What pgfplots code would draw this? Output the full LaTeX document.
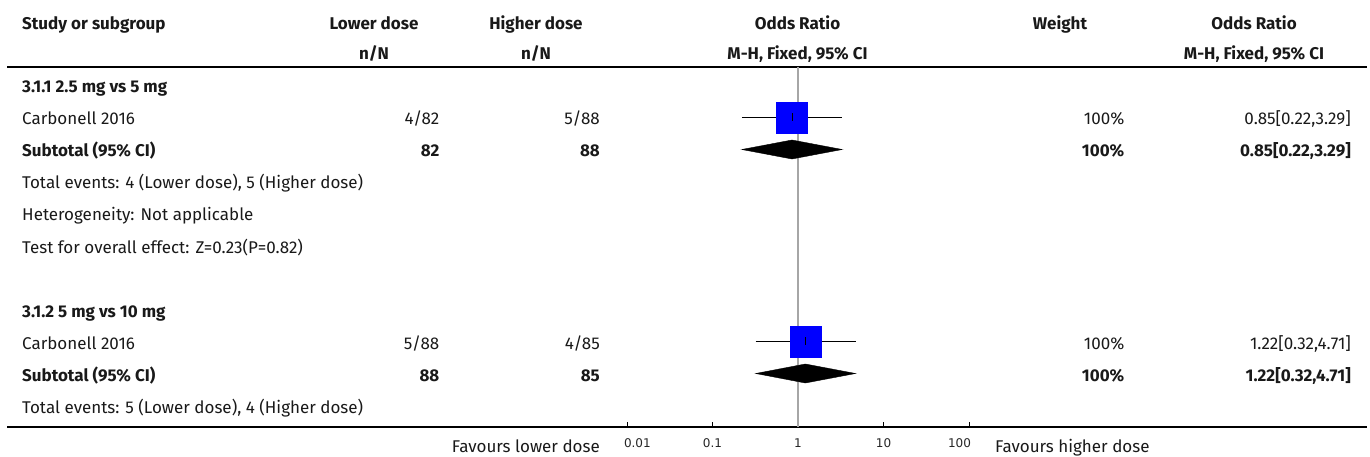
\documentclass[border=0pt]{standalone}
\usepackage{pgfplots}
\pgfplotsset{compat=1.18}
\usepackage{fontspec}
\setmainfont{Fira Sans}
\newfontfamily\tickfont{DejaVu Sans}
\newcommand\mf{\fontsize{17}{19}\selectfont}
\newcommand\bmf{\fontsize{17}{19}\selectfont\bfseries}
\begin{document}
\begin{tikzpicture}
\path[use as bounding box] (0pt,0pt) rectangle (1370pt,-457pt);
\begin{scope}[x=1pt,y=-1pt,every node/.style={inner sep=0pt,text=black!90}]
% header
\node[anchor=base west,font=\bmf] at (22,30) {Study or subgroup};
\node[anchor=base,font=\bmf] at (374,30) {Lower dose};
\node[anchor=base,font=\bmf] at (536,30) {Higher dose};
\node[anchor=base,font=\bmf] at (797.5,30) {Odds Ratio};
\node[anchor=base,font=\bmf] at (1060,30) {Weight};
\node[anchor=base,font=\bmf] at (1254,30) {Odds Ratio};
\node[anchor=base,font=\bmf] at (374,60) {n/N};
\node[anchor=base,font=\bmf] at (536,60) {n/N};
\node[anchor=base,font=\bmf] at (797.5,60) {M-H, Fixed, 95\% CI};
\node[anchor=base,font=\bmf] at (1254,60) {M-H, Fixed, 95\% CI};
\draw[line width=1.2pt] (7,67) -- (1367,67);
% group 1
\node[anchor=base west,font=\bmf] at (22,93) {3.1.1 2.5 mg vs 5 mg};
\node[anchor=base west,font=\mf] at (22,125) {Carbonell 2016};
\node[anchor=base east,font=\mf] at (439.5,125) {4/82};
\node[anchor=base east,font=\mf] at (600,125) {5/88};
\node[anchor=base east,font=\mf] at (1124.5,125) {100\%};
\node[anchor=base east,font=\mf] at (1351,125) {0.85[0.22,3.29]};
\node[anchor=base west,font=\bmf] at (22,157) {Subtotal (95\% CI)};
\node[anchor=base east,font=\bmf] at (439.5,157) {82};
\node[anchor=base east,font=\bmf] at (600,157) {88};
\node[anchor=base east,font=\bmf] at (1124.5,157) {100\%};
\node[anchor=base east,font=\bmf] at (1351,157) {0.85[0.22,3.29]};
\node[anchor=base west,font=\mf] at (22,189) {Total events: 4 (Lower dose), 5 (Higher dose)};
\node[anchor=base west,font=\mf] at (22,221) {Heterogeneity: Not applicable};
\node[anchor=base west,font=\mf] at (22,253) {Test for overall effect: Z=0.23(P=0.82)};
% group 2
\node[anchor=base west,font=\bmf] at (22,317) {3.1.2 5 mg vs 10 mg};
\node[anchor=base west,font=\mf] at (22,349) {Carbonell 2016};
\node[anchor=base east,font=\mf] at (439.5,349) {5/88};
\node[anchor=base east,font=\mf] at (600,349) {4/85};
\node[anchor=base east,font=\mf] at (1124.5,349) {100\%};
\node[anchor=base east,font=\mf] at (1351,349) {1.22[0.32,4.71]};
\node[anchor=base west,font=\bmf] at (22,381) {Subtotal (95\% CI)};
\node[anchor=base east,font=\bmf] at (439.5,381) {88};
\node[anchor=base east,font=\bmf] at (600,381) {85};
\node[anchor=base east,font=\bmf] at (1124.5,381) {100\%};
\node[anchor=base east,font=\bmf] at (1351,381) {1.22[0.32,4.71]};
\node[anchor=base west,font=\mf] at (22,413) {Total events: 5 (Lower dose), 4 (Higher dose)};
% bottom
\draw[line width=1.2pt] (7,427) -- (1367,427);
\node[anchor=base east,font=\mf] at (600,452) {Favours lower dose};
\node[anchor=base west,font=\mf] at (995,452) {Favours higher dose};
\end{scope}
\begin{axis}[
  at={(617pt,-427pt)}, anchor=south west,
  scale only axis, width=361pt, height=360pt,
  xmode=log, xmin=0.00764, xmax=127.4,
  ymin=-427, ymax=-67,
  axis x line=bottom, hide y axis,
  x axis line style={line width=1.4pt,-},
  xtick={0.01,0.1,1,10,100},
  xticklabels={\makebox[0pt][l]{\hspace*{-3pt}0.01},0.1,1,10,\makebox[0pt][r]{100\hspace*{-2pt}}},
  xminorticks=false,
  tick align=inside, major tick length=5pt,
  tick style={black, line width=0.8pt},
  xticklabel style={anchor=base, yshift=-20pt, inner sep=0pt, font=\tickfont\fontsize{12}{13}\selectfont, text=black!85},
  clip=false,
]
\addplot[gray!70, line width=1.3pt] coordinates {(1,-67) (1,-427)};
\addplot[only marks, mark=square*, mark size=15.5pt, mark options={fill=blue, draw=blue}] coordinates {(0.85,-117.5) (1.22,-341.3)};
\addplot[black, line width=1pt] coordinates {(0.22,-117.5) (3.29,-117.5)};
\addplot[black, line width=1pt] coordinates {(0.32,-341.3) (4.71,-341.3)};
\addplot[only marks, mark=|, mark size=4pt, mark options={black, line width=0.8pt}] coordinates {(0.85,-117.5) (1.22,-341.3)};
\addplot[fill=black, draw=black] coordinates {(0.22,-149.5) (0.85,-140) (3.29,-149.5) (0.85,-159)} -- cycle;
\addplot[fill=black, draw=black] coordinates {(0.32,-373.5) (1.22,-364) (4.71,-373.5) (1.22,-383)} -- cycle;
\end{axis}
\end{tikzpicture}
\end{document}
